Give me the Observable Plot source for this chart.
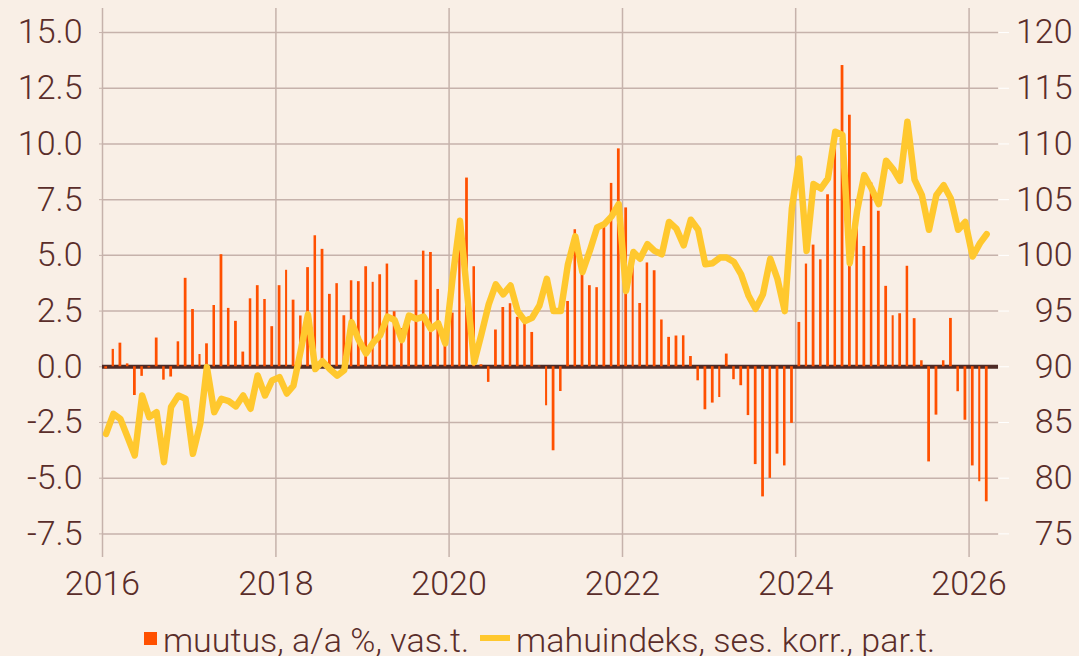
<!DOCTYPE html>
<html>
<head>
<meta charset="utf-8">
<script src="https://cdn.jsdelivr.net/npm/d3@7"></script>
<script src="https://cdn.jsdelivr.net/npm/@observablehq/plot@0.6"></script>
<style>
  html, body { margin: 0; padding: 0; background: #f9efe6; }
  #chart { width: 1079px; height: 656px; overflow: hidden; position: relative; }
  #legend { display: flex; justify-content: center; align-items: center; font-family: Roboto, sans-serif; font-weight: 300; font-size: 34px; line-height: 34px; color: #5a2d2a; padding-top: 11px; white-space: nowrap; }
  .item { display: flex; align-items: center; }
  .sq { display: inline-block; width: 13px; height: 13px; background: #ff5000; margin-right: 6px; position: relative; top: -2px; }
  .ln { display: inline-block; width: 30px; height: 6px; background: #ffc82e; margin-right: 6px; position: relative; top: -2px; }
  .gap { width: 11px; }
</style>
</head>
<body>
<div id="chart"></div>
<script>
// monthly series, Jan 2016 .. Mar 2026
const startYear = 2016;
const muutus = [
  -0.1, 0.78, 1.06, 0.13, -1.29, -0.43, -0.05, 1.29, -0.6, -0.46, 1.12, 3.97,
  2.57, 0.55, 1.03, 2.75, 5.03, 2.62, 2.04, 0.66, 3.05, 3.64, 3.02, 1.80,
  3.64, 4.33, 2.99, 2.28, 4.45, 5.88, 5.27, 3.25, 3.73, 2.29, 3.86, 3.82,
  4.49, 3.79, 4.13, 4.61, 2.47, 1.71, 2.1, 3.88, 5.19, 5.13, 3.47, 1.0,
  2.41, 5.3, 8.47, 4.49, 0.09, -0.70, 1.65, 2.66, 2.83, 2.22, 1.99, 1.54,
  0.03, -1.75, -3.77, -1.11, 2.93, 6.15, 4.16, 3.64, 3.55, 6.26, 8.23, 9.78,
  7.13, 4.69, 2.84, 4.66, 4.31, 2.10, 1.32, 1.38, 1.39, 0.46, -0.63, -1.93,
  -1.63, -1.38, 0.57, -0.58, -0.85, -2.19, -4.39, -5.84, -5.01, -3.92, -4.45, -2.54,
  1.99, 4.61, 5.46, 4.8, 7.72, 10.3, 13.52, 11.29, 7.5, 5.40, 8.25, 6.98,
  3.61, 2.29, 2.38, 4.51, 2.16, 0.27, -4.27, -2.17, 0.27, 2.17, -1.12, -2.40,
  -4.45, -5.16, -6.06
];
const mahuindeks = [
  83.98, 85.78, 85.33, 83.68, 82.04, 87.42, 85.48, 85.93, 81.44, 86.38, 87.42, 87.13,
  82.19, 84.88, 89.97, 85.93, 87.13, 86.92, 86.44, 87.42, 86.23, 89.22, 87.42, 88.77,
  89.07, 87.6, 88.3, 91.5, 94.7, 89.8, 90.5, 89.8, 89.2, 89.7, 94.0, 92.4,
  91.2, 92.2, 92.8, 94.5, 94.2, 92.4, 94.6, 94.3, 94.5, 93.4, 93.9, 92.1,
  98.0, 103.1, 96.8, 90.4, 92.9, 95.6, 97.4, 96.5, 97.3, 95.0, 94.1, 94.4,
  95.5, 97.9, 95.0, 95.0, 99.2, 101.7, 98.5, 100.4, 102.5, 102.8, 103.5, 104.6,
  96.8, 100.3, 99.7, 101.0, 100.4, 100.1, 103.0, 102.4, 100.9, 103.2, 102.3, 99.2,
  99.3, 99.8, 99.8, 99.4, 98.3, 96.4, 95.2, 96.5, 99.7, 97.9, 95.0, 104.2,
  108.7, 100.4, 106.4, 106.0, 106.9, 111.1, 110.8, 99.3, 104.0, 107.2, 106.0, 104.6,
  108.5, 107.7, 106.7, 112.0, 106.8, 105.4, 102.3, 105.4, 106.3, 105.1, 102.3, 103.0,
  99.9, 101.1, 101.9
];
const leftTicks = [-7.5, -5, -2.5, 0, 2.5, 5, 7.5, 10, 12.5, 15];
const rightTickLabels = ["75", "80", "85", "90", "95", "100", "105", "110", "115", "120"];
const yearTicks = [2016, 2018, 2020, 2022, 2024, 2026];
const legendLabels = ["muutus, a/a %, vas.t.", "mahuindeks, ses. korr., par.t."];

const data = muutus.map((v, i) => ({
  month: new Date(Date.UTC(startYear, i, 1)),
  mid: new Date(Date.UTC(startYear, i, 16)),
  muutus: v,
  indeks: mahuindeks[i]
}));
// right axis: indeks = 90 + 2 * left value
const toLeft = v => (v - 90) / 2;

const gridColor = "#c6b2ab";
const textColor = "#5a2d2a";
const yearDates = yearTicks.map(y => new Date(Date.UTC(y, 0, 1)));

const chart = Plot.plot({
  width: 1079,
  height: 612,
  marginLeft: 102,
  marginRight: 81,
  marginTop: 8,
  marginBottom: 55,
  style: { background: "transparent", fontFamily: "Roboto, sans-serif", fontSize: "34px", fontWeight: 300, color: textColor, overflow: "visible" },
  x: { type: "utc", domain: [new Date(Date.UTC(2016, 0, 1)), new Date(Date.UTC(2026, 4, 5))], label: null },
  y: { domain: [-8.56, 16.08], label: null },
  marks: [
    Plot.gridY(leftTicks, { stroke: gridColor, strokeOpacity: 1, strokeWidth: 1.5 }),
    Plot.gridX(yearDates, { stroke: gridColor, strokeOpacity: 1, strokeWidth: 1.5 }),
    Plot.axisY(leftTicks, { anchor: "left", label: null, tickFormat: d => d.toFixed(1), tickSize: 3, tickPadding: 17, stroke: gridColor, fill: textColor, fontSize: 34 }),
    Plot.axisY(leftTicks, { anchor: "right", label: null, tickFormat: (d, i) => rightTickLabels[i], tickSize: 10, tickPadding: 64, textAnchor: "end", stroke: "#ffffff", fill: textColor, fontSize: 34 }),
    Plot.axisX(yearDates, { label: null, tickFormat: d => String(d.getUTCFullYear()), tickSize: 0, tickPadding: 13, fill: textColor, fontSize: 34 }),
    Plot.ruleY([0], { stroke: "#4e2a26", strokeWidth: 4 }),
    Plot.rectY(data, { x: "month", y: "muutus", interval: "month", insetLeft: 2.3, insetRight: 2.3, fill: "#ff5000" }),
    Plot.line(data, { x: "mid", y: d => toLeft(d.indeks), stroke: "#ffc82e", strokeWidth: 6.5 })
  ]
});

const root = document.getElementById("chart");
root.appendChild(chart);

const legend = document.createElement("div");
legend.id = "legend";
legend.innerHTML =
  `<span class="item"><span class="sq"></span><span>${legendLabels[0]}</span></span>` +
  `<span class="gap"></span>` +
  `<span class="item"><span class="ln"></span><span>${legendLabels[1]}</span></span>`;
root.appendChild(legend);
</script>
</body>
</html>
